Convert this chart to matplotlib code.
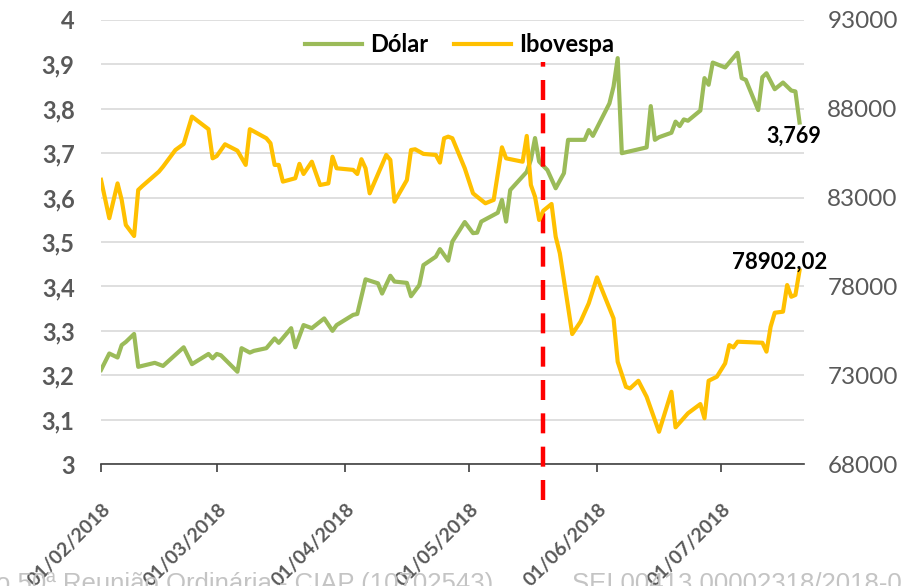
import matplotlib
matplotlib.use("Agg")
import matplotlib.pyplot as plt
import matplotlib.dates as mdates
import matplotlib.transforms as mtransforms
from matplotlib.ticker import FuncFormatter, MultipleLocator
import pandas as pd

plt.rcParams['font.family'] = ['Lato', 'DejaVu Sans']

# Dólar (left axis)
dolar_dates = [
    "2018-02-01", "2018-02-03", "2018-02-05", "2018-02-06", "2018-02-07", "2018-02-09", "2018-02-10", "2018-02-14",
    "2018-02-16", "2018-02-21", "2018-02-23", "2018-02-27", "2018-02-28", "2018-03-01", "2018-03-02", "2018-03-06",
    "2018-03-07", "2018-03-09", "2018-03-10", "2018-03-13", "2018-03-15", "2018-03-16", "2018-03-19", "2018-03-20",
    "2018-03-22", "2018-03-24", "2018-03-27", "2018-03-29", "2018-03-30", "2018-04-03", "2018-04-04", "2018-04-06",
    "2018-04-09", "2018-04-10", "2018-04-12", "2018-04-13", "2018-04-16", "2018-04-17", "2018-04-19", "2018-04-20",
    "2018-04-23", "2018-04-24", "2018-04-26", "2018-04-27", "2018-04-30", "2018-05-02", "2018-05-03", "2018-05-04",
    "2018-05-08", "2018-05-09", "2018-05-10", "2018-05-11", "2018-05-15", "2018-05-16", "2018-05-17", "2018-05-18",
    "2018-05-20", "2018-05-22", "2018-05-24", "2018-05-25", "2018-05-29", "2018-05-30", "2018-05-31", "2018-06-04",
    "2018-06-05", "2018-06-06", "2018-06-07", "2018-06-13", "2018-06-14", "2018-06-15", "2018-06-16", "2018-06-19",
    "2018-06-20", "2018-06-21", "2018-06-22", "2018-06-23", "2018-06-26", "2018-06-27", "2018-06-28", "2018-06-29",
    "2018-07-02", "2018-07-05", "2018-07-06", "2018-07-07", "2018-07-10", "2018-07-11", "2018-07-12", "2018-07-14",
    "2018-07-16", "2018-07-18", "2018-07-19", "2018-07-20",
]
dolar = [
    3.212, 3.249, 3.240, 3.268, 3.275, 3.293, 3.219, 3.228,
    3.221, 3.263, 3.225, 3.248, 3.238, 3.248, 3.245, 3.208,
    3.261, 3.251, 3.255, 3.261, 3.283, 3.273, 3.306, 3.263,
    3.313, 3.306, 3.328, 3.300, 3.313, 3.336, 3.338, 3.416,
    3.407, 3.384, 3.424, 3.411, 3.408, 3.378, 3.403, 3.448,
    3.467, 3.484, 3.458, 3.501, 3.545, 3.520, 3.521, 3.546,
    3.566, 3.595, 3.546, 3.617, 3.658, 3.685, 3.734, 3.681,
    3.662, 3.621, 3.655, 3.730, 3.730, 3.752, 3.739, 3.812,
    3.850, 3.914, 3.700, 3.713, 3.806, 3.730, 3.736, 3.746,
    3.771, 3.761, 3.776, 3.773, 3.796, 3.869, 3.854, 3.904,
    3.893, 3.926, 3.869, 3.865, 3.797, 3.871, 3.880, 3.844,
    3.859, 3.841, 3.839, 3.769,
]

# Ibovespa (right axis)
ibov_dates = [
    "2018-02-01", "2018-02-03", "2018-02-05", "2018-02-06", "2018-02-07", "2018-02-09", "2018-02-10", "2018-02-11",
    "2018-02-15", "2018-02-16", "2018-02-19", "2018-02-21", "2018-02-23", "2018-02-27", "2018-02-28", "2018-03-01",
    "2018-03-03", "2018-03-06", "2018-03-08", "2018-03-09", "2018-03-13", "2018-03-14", "2018-03-15", "2018-03-16",
    "2018-03-17", "2018-03-20", "2018-03-21", "2018-03-22", "2018-03-24", "2018-03-26", "2018-03-28", "2018-03-29",
    "2018-03-30", "2018-04-03", "2018-04-04", "2018-04-05", "2018-04-06", "2018-04-07", "2018-04-11", "2018-04-12",
    "2018-04-13", "2018-04-16", "2018-04-17", "2018-04-18", "2018-04-20", "2018-04-23", "2018-04-24", "2018-04-25",
    "2018-04-26", "2018-04-27", "2018-04-30", "2018-05-02", "2018-05-03", "2018-05-05", "2018-05-07", "2018-05-09",
    "2018-05-10", "2018-05-14", "2018-05-15", "2018-05-16", "2018-05-17", "2018-05-18", "2018-05-19", "2018-05-21",
    "2018-05-22", "2018-05-23", "2018-05-24", "2018-05-26", "2018-05-28", "2018-05-30", "2018-06-01", "2018-06-05",
    "2018-06-06", "2018-06-08", "2018-06-09", "2018-06-11", "2018-06-13", "2018-06-16", "2018-06-19", "2018-06-20",
    "2018-06-23", "2018-06-26", "2018-06-27", "2018-06-28", "2018-06-30", "2018-07-02", "2018-07-03", "2018-07-04",
    "2018-07-05", "2018-07-11", "2018-07-12", "2018-07-13", "2018-07-14", "2018-07-16", "2018-07-17", "2018-07-18",
    "2018-07-19", "2018-07-20",
]
ibovespa = [
    84000, 81840, 83800, 82870, 81460, 80840, 83430, 83650,
    84460, 84740, 85680, 86020, 87560, 86850, 85210, 85340,
    86000, 85640, 84840, 86850, 86340, 86060, 84840, 84840,
    83900, 84090, 84900, 84330, 85020, 83710, 83800, 85300,
    84650, 84560, 84330, 85160, 84650, 83240, 85400, 85120,
    82770, 83990, 85680, 85720, 85460, 85400, 84970, 86340,
    86430, 86340, 84650, 83240, 83050, 82680, 82870, 85830,
    85210, 85020, 86470, 83710, 83050, 81740, 82260, 82640,
    80800, 79870, 78360, 75320, 76010, 77050, 78510, 76200,
    73760, 72350, 72260, 72690, 71790, 69820, 72070, 70070,
    70860, 71380, 70580, 72690, 72920, 73670, 74700, 74570,
    74890, 74830, 74330, 75730, 76520, 76580, 78080, 77420,
    77520, 78902.02,
]

month_ticks = ["2018-02-01", "2018-03-01", "2018-04-01", "2018-05-01", "2018-06-01", "2018-07-01"]
ibov_ticks = [68000, 73000, 78000, 83000, 88000, 93000]
x_start, x_end = "2018-02-01", "2018-07-21"
event_date = "2018-05-19"

green = "#9BBB59"
orange = "#FFC000"
grey = "#595959"

fig = plt.figure(figsize=(9.02, 5.86), dpi=100)
ax = fig.add_axes([0.112, 0.208, 0.779, 0.758])
ax2 = ax.twinx()

d_dates = pd.to_datetime(dolar_dates)
i_dates = pd.to_datetime(ibov_dates)

l1, = ax.plot(d_dates, dolar, color=green, lw=3, label="Dólar", solid_joinstyle="round")
l2, = ax2.plot(i_dates, ibovespa, color=orange, lw=3, label="Ibovespa", solid_joinstyle="round")

# left axis
ax.set_ylim(3, 4)
ax.yaxis.set_major_locator(MultipleLocator(0.1))
ax.yaxis.set_major_formatter(FuncFormatter(
    lambda v, p: f"{v:.1f}".replace(".", ",").replace(",0", "")))
ax.grid(axis="y", color="#d9d9d9", lw=1.2)
ax.set_axisbelow(True)

# right axis
ax2.set_ylim(68000, 93000)
ax2.set_yticks(ibov_ticks)

for a in (ax, ax2):
    for s in ("top", "left", "right"):
        a.spines[s].set_visible(False)
ax2.spines["bottom"].set_visible(False)
ax.spines["bottom"].set_color("#404040")
ax.spines["bottom"].set_linewidth(1.2)

ax.tick_params(axis="y", length=0, pad=19, labelsize=17, labelcolor=grey)
for t in ax.get_yticklabels():
    t.set_fontweight("bold")
ax2.tick_params(axis="y", length=0, pad=17, labelsize=17.5, labelcolor=grey)

# x axis
ax.set_xlim(pd.Timestamp(x_start), pd.Timestamp(x_end))
ax.set_xticks(pd.to_datetime(month_ticks))
ax.xaxis.set_major_formatter(mdates.DateFormatter("%d/%m/%Y"))
ax.tick_params(axis="x", length=6, width=1.2, color="#404040", pad=20,
               labelsize=14, labelcolor=grey)
offset = mtransforms.ScaledTranslation(0.01, 0, fig.dpi_scale_trans)
for t in ax.get_xticklabels():
    t.set_rotation(45)
    t.set_ha("right")
    t.set_va("top")
    t.set_rotation_mode("anchor")
    t.set_fontweight("bold")
    t.set_transform(t.get_transform() + offset)

# event marker
ax.axvline(pd.Timestamp(event_date), ymin=-0.08, ymax=0.905, color="#FF0000",
           lw=3.2, dashes=(4.5, 3), clip_on=False, zorder=5)

# end labels
ax.annotate(f"{dolar[-1]:.3f}".replace(".", ","), (d_dates[-1], dolar[-1]),
            xytext=(-4, -10), textcoords="offset points", ha="center", va="center",
            fontsize=15.5, fontweight="bold", color="black")
ax2.annotate(f"{ibovespa[-1]:.2f}".replace(".", ","), (i_dates[-1], ibovespa[-1]),
             xytext=(-14, 6), textcoords="offset points", ha="center", va="center",
             fontsize=16, fontweight="bold", color="black")

leg = ax.legend(handles=[l1, l2], loc="center", bbox_to_anchor=(0.51, 0.945), ncol=2,
                frameon=False, handlelength=2.4, columnspacing=1.1, handletextpad=0.35,
                prop={"weight": "bold", "size": 17})

# footer text (partly cut off, as in the source page)
fig.text(-0.004, -0.009, "o 50ª Reunião Ordinária - CIAP (10702543)",
         fontsize=18.5, color="#c4c4c4", family="Liberation Sans", va="baseline")
fig.text(0.634, -0.009, "SEI 00413.00002318/2018-01",
         fontsize=18.5, color="#c4c4c4", family="Liberation Sans", va="baseline")

fig.savefig("out.png", dpi=100)
